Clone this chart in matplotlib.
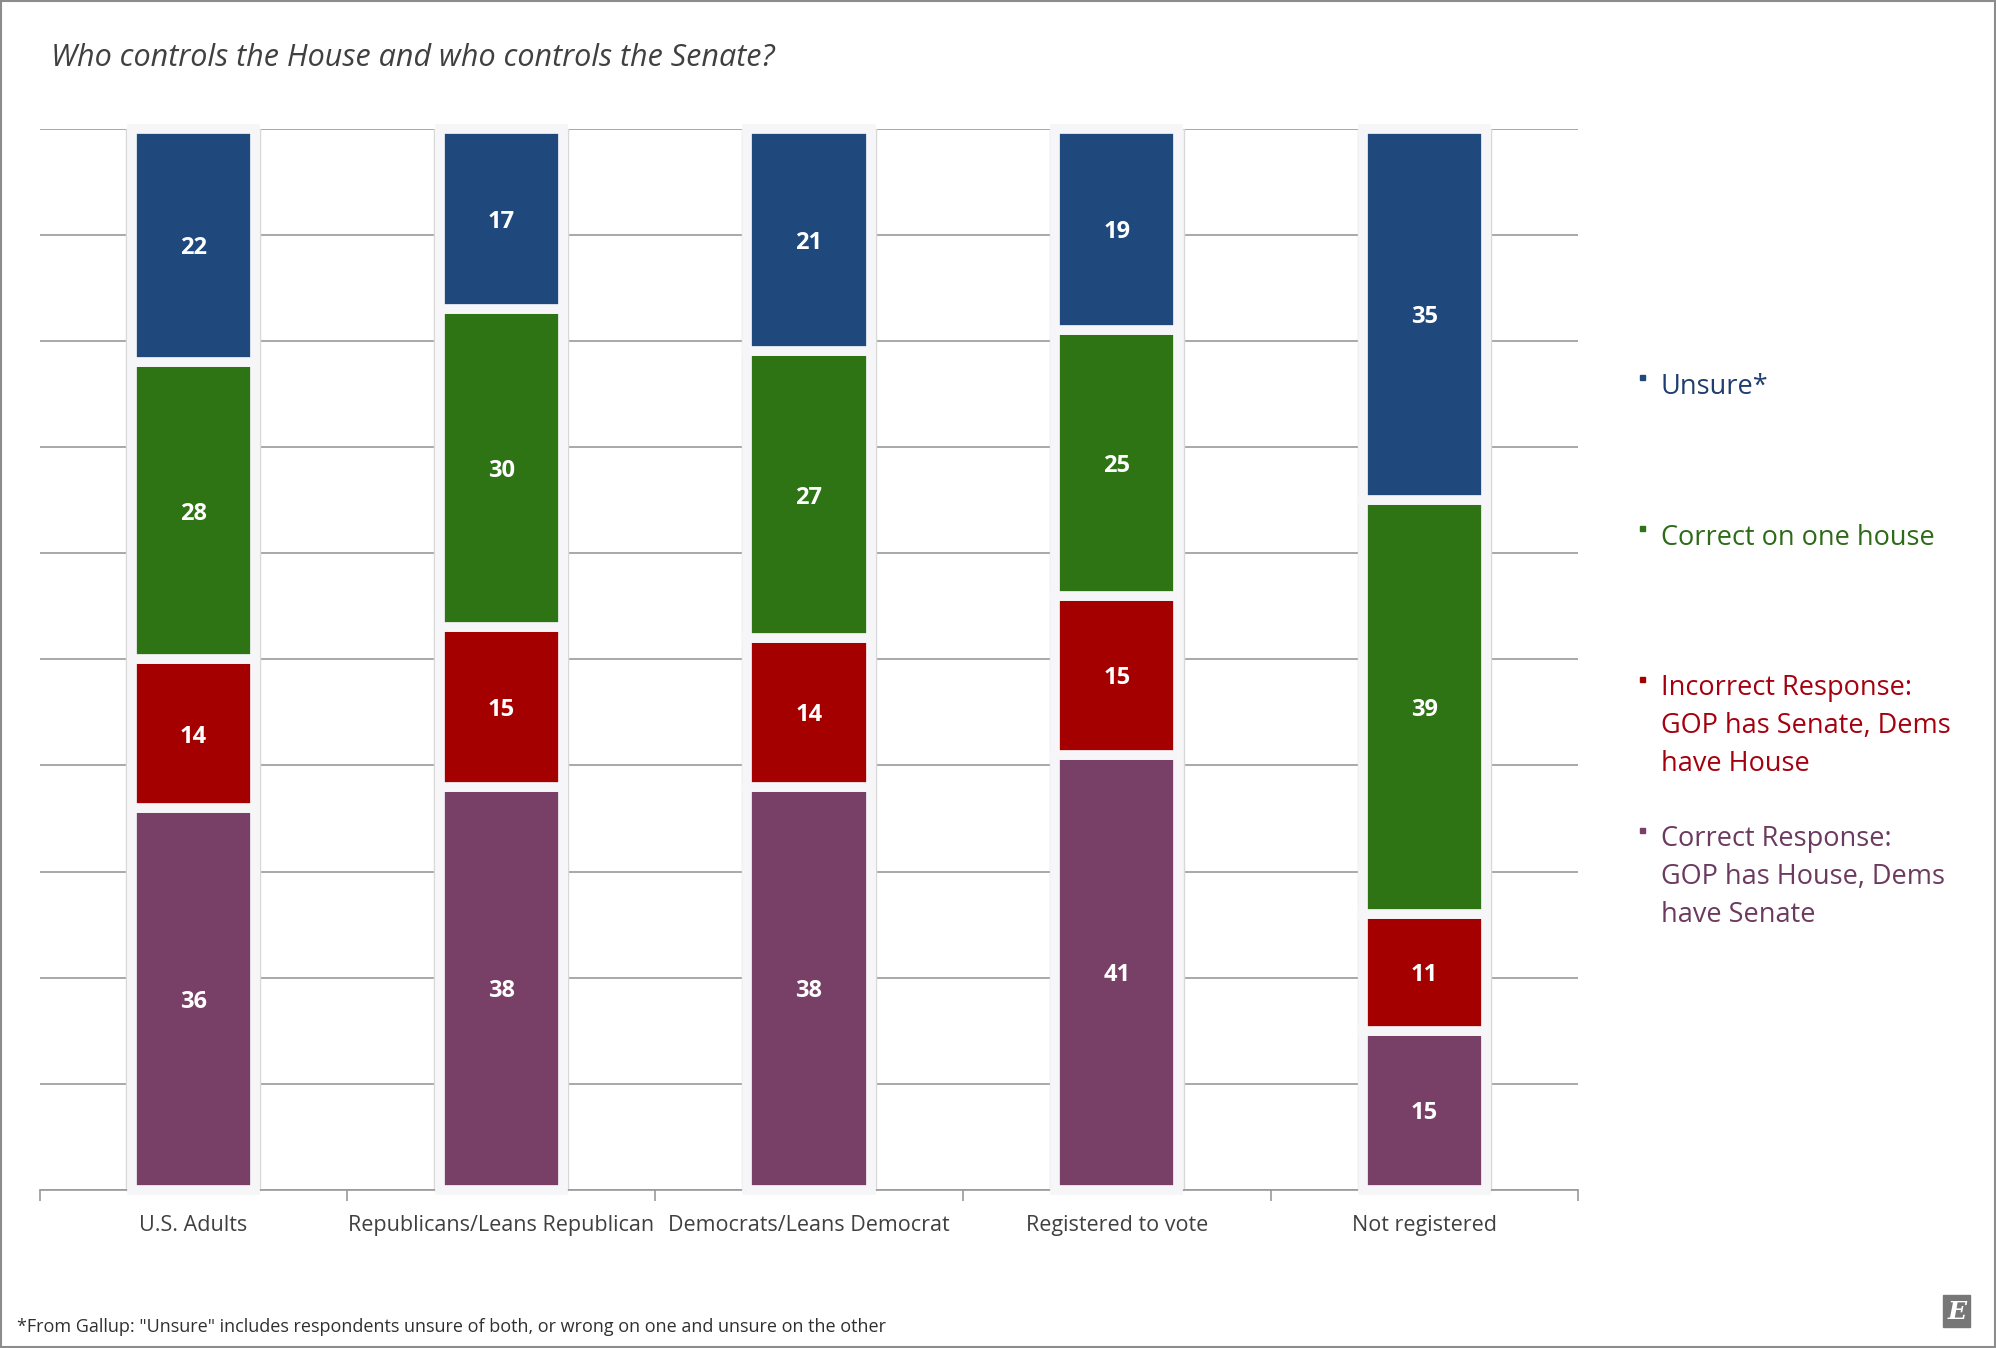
import numpy as np
import matplotlib.pyplot as plt
from matplotlib.patches import Rectangle

# data
groups = ['U.S. Adults', 'Republicans/Leans Republican', 'Democrats/Leans Democrat',
          'Registered to vote', 'Not registered']
correct = [36, 38, 38, 41, 15]
incorrect = [14, 15, 14, 15, 11]
one_house = [28, 30, 27, 25, 39]
unsure = [22, 17, 21, 19, 35]

series = [correct, incorrect, one_house, unsure]
colors = ['#783f67', '#a50000', '#2e7314', '#1f497d']
legend_labels = ['Unsure*', 'Correct on one house',
                 'Incorrect Response:\nGOP has Senate, Dems\nhave House',
                 'Correct Response:\nGOP has House, Dems\nhave Senate']
legend_colors = ['#1f3d6e', '#2d6b18', '#a5000f', '#6c3a5f']

body_font = ['Open Sans', 'DejaVu Sans']

fig = plt.figure(figsize=(19.96, 13.48), dpi=100)
ax = fig.add_axes([0.0198, 0.1172, 0.771, 0.7874])

x = np.arange(len(groups))

# light panel behind each bar
ax.bar(x, 100, width=0.435, color='#f6f6f8', edgecolor='#d8d8d8', linewidth=1.0,
       zorder=2, clip_on=False)

bottom = np.zeros(len(groups))
for vals, col in zip(series, colors):
    vals = np.array(vals)
    ax.bar(x, vals, bottom=bottom, width=0.40, color=col, edgecolor='#f6f6f8',
           linewidth=7, zorder=3, clip_on=False)
    for xi, b, v in zip(x, bottom, vals):
        ax.text(xi, b + v / 2, str(v), ha='center', va='center_baseline', color='white',
                fontsize=17, fontweight='bold', family=body_font, zorder=4)
    bottom += vals

ax.set_xlim(-0.5, 4.5)
ax.set_ylim(0, 100)
ax.set_yticks(np.arange(0, 101, 10))
ax.yaxis.grid(True, color='#9a9a9a', linewidth=1.2, zorder=1)
ax.set_axisbelow(True)
ax.tick_params(axis='y', left=False, labelleft=False)
for s in ['top', 'right', 'left']:
    ax.spines[s].set_visible(False)
ax.spines['bottom'].set_color('#9a9a9a')
ax.spines['bottom'].set_linewidth(1.2)

ax.set_xticks(x)
ax.set_xticklabels(groups, fontsize=15.5, color='#404040', family=body_font)
ax.tick_params(axis='x', length=0, pad=18)
ax.set_xticks(np.arange(-0.5, 5, 1), minor=True)
ax.tick_params(axis='x', which='minor', length=8, color='#9a9a9a', width=1.2)

# title
fig.text(0.0255, 0.957, 'Who controls the House and who controls the Senate?',
         fontsize=22, style='italic', color='#404040', va='center', family=body_font)

# legend
leg_y = [0.7236, 0.6116, 0.4999, 0.3879]
for lbl, col, mcol, yy in zip(legend_labels, legend_colors, colors[::-1], leg_y):
    fig.text(0.832, yy, lbl, fontsize=19.5, color=col, va='top', linespacing=1.47,
             family=body_font)
    fig.patches.append(Rectangle((0.8215, yy - 0.0058), 0.0025, 0.0037,
                                 transform=fig.transFigure, color=mcol))

# footnote
fig.text(0.0085, 0.0118,
         '*From Gallup: "Unsure" includes respondents unsure of both, or wrong on one and unsure on the other',
         fontsize=13, color='#303030', family=body_font)

# logo
fig.patches.append(Rectangle((0.9735, 0.0155), 0.0135, 0.0235,
                             transform=fig.transFigure, color='#777777'))
fig.text(0.9803, 0.027, 'E', fontsize=18, color='white', ha='center', va='center',
         family='DejaVu Serif', fontweight='bold', style='italic')

# frame
fig.patches.append(Rectangle((0.0005, 0.001), 0.999, 0.998, transform=fig.transFigure,
                             fill=False, edgecolor='#8c8c8c', linewidth=1.5))

fig.savefig('out.png', dpi=100)
